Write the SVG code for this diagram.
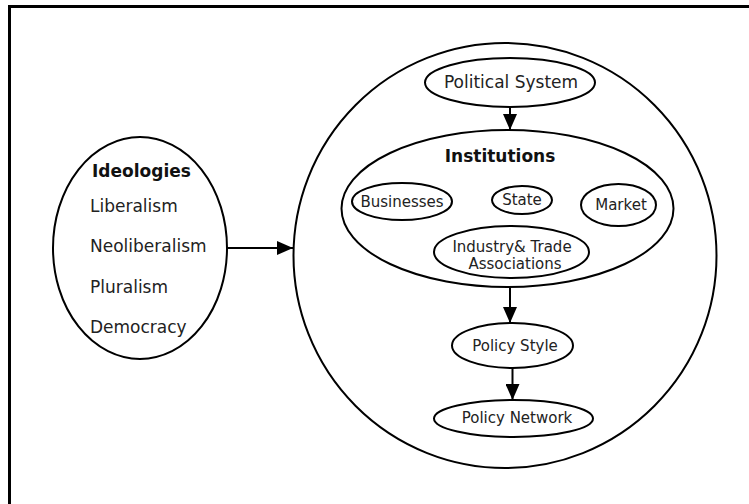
<svg xmlns="http://www.w3.org/2000/svg" width="749" height="504" viewBox="0 0 749 504">
<style>
.n{fill:#fff;stroke:#000;stroke-width:2}
.c{fill:none;stroke:#000;stroke-width:2}
text{font-family:"DejaVu Sans","Liberation Sans",sans-serif;fill:#222}
.b{font-weight:bold;font-size:17px;fill:#111}
.l{font-size:17px}
.m{font-size:15px}
.t{text-anchor:middle}
</style>
<defs>
<marker id="ah" markerWidth="16" markerHeight="14" refX="16" refY="7" orient="auto" markerUnits="userSpaceOnUse">
<path d="M0,0 L16,7 L0,14 Z" fill="#000"/>
</marker>
</defs>
<rect width="749" height="504" fill="#fff"/>
<path d="M9.5,504 V6.5 H749" fill="none" stroke="#000" stroke-width="3"/>
<g id="ideologies">
<ellipse class="n" cx="140" cy="248" rx="87" ry="111"/>
<text class="b" x="92" y="177">Ideologies</text>
<text class="l" x="90" y="212">Liberalism</text>
<text class="l" x="90" y="252">Neoliberalism</text>
<text class="l" x="90" y="293">Pluralism</text>
<text class="l" x="90" y="333">Democracy</text>
</g>
<g id="system">
<ellipse class="n" cx="505" cy="255.5" rx="211.5" ry="212.5"/>
</g>
<g id="political-system">
<ellipse class="n" cx="510" cy="82.5" rx="85" ry="24.5"/>
<text class="l t" x="511" y="88">Political System</text>
</g>
<g id="institutions">
<ellipse class="n" cx="507.5" cy="208.5" rx="166" ry="78.5"/>
<text class="b t" x="500" y="162">Institutions</text>
</g>
<g id="businesses">
<ellipse class="n" cx="402" cy="201.5" rx="50" ry="18.5"/>
<text class="m t" x="402" y="207">Businesses</text>
</g>
<g id="state">
<ellipse class="n" cx="522" cy="200" rx="30" ry="14"/>
<text class="m t" x="522" y="205">State</text>
</g>
<g id="market">
<ellipse class="n" cx="618.5" cy="205" rx="37.5" ry="21"/>
<text class="m t" x="621" y="210">Market</text>
</g>
<g id="associations">
<ellipse class="n" cx="511.5" cy="252" rx="77.5" ry="26"/>
<text class="m t" x="512" y="252">Industry&amp; Trade</text>
<text class="m t" x="515" y="269">Associations</text>
</g>
<g id="policy-style">
<ellipse class="n" cx="512.5" cy="345.5" rx="60.5" ry="22.5"/>
<text class="m t" x="515" y="351">Policy Style</text>
</g>
<g id="policy-network">
<ellipse class="n" cx="513.5" cy="418.5" rx="79.5" ry="18.5"/>
<text class="m t" x="517" y="423">Policy Network</text>
</g>
<g id="connectors">
<line class="c" x1="227" y1="248" x2="293" y2="248" marker-end="url(#ah)"/>
<line class="c" x1="510" y1="107" x2="510" y2="130" marker-end="url(#ah)"/>
<line class="c" x1="510" y1="287" x2="510" y2="323" marker-end="url(#ah)"/>
<line class="c" x1="512.5" y1="368" x2="512.5" y2="400" marker-end="url(#ah)"/>
</g>
</svg>
